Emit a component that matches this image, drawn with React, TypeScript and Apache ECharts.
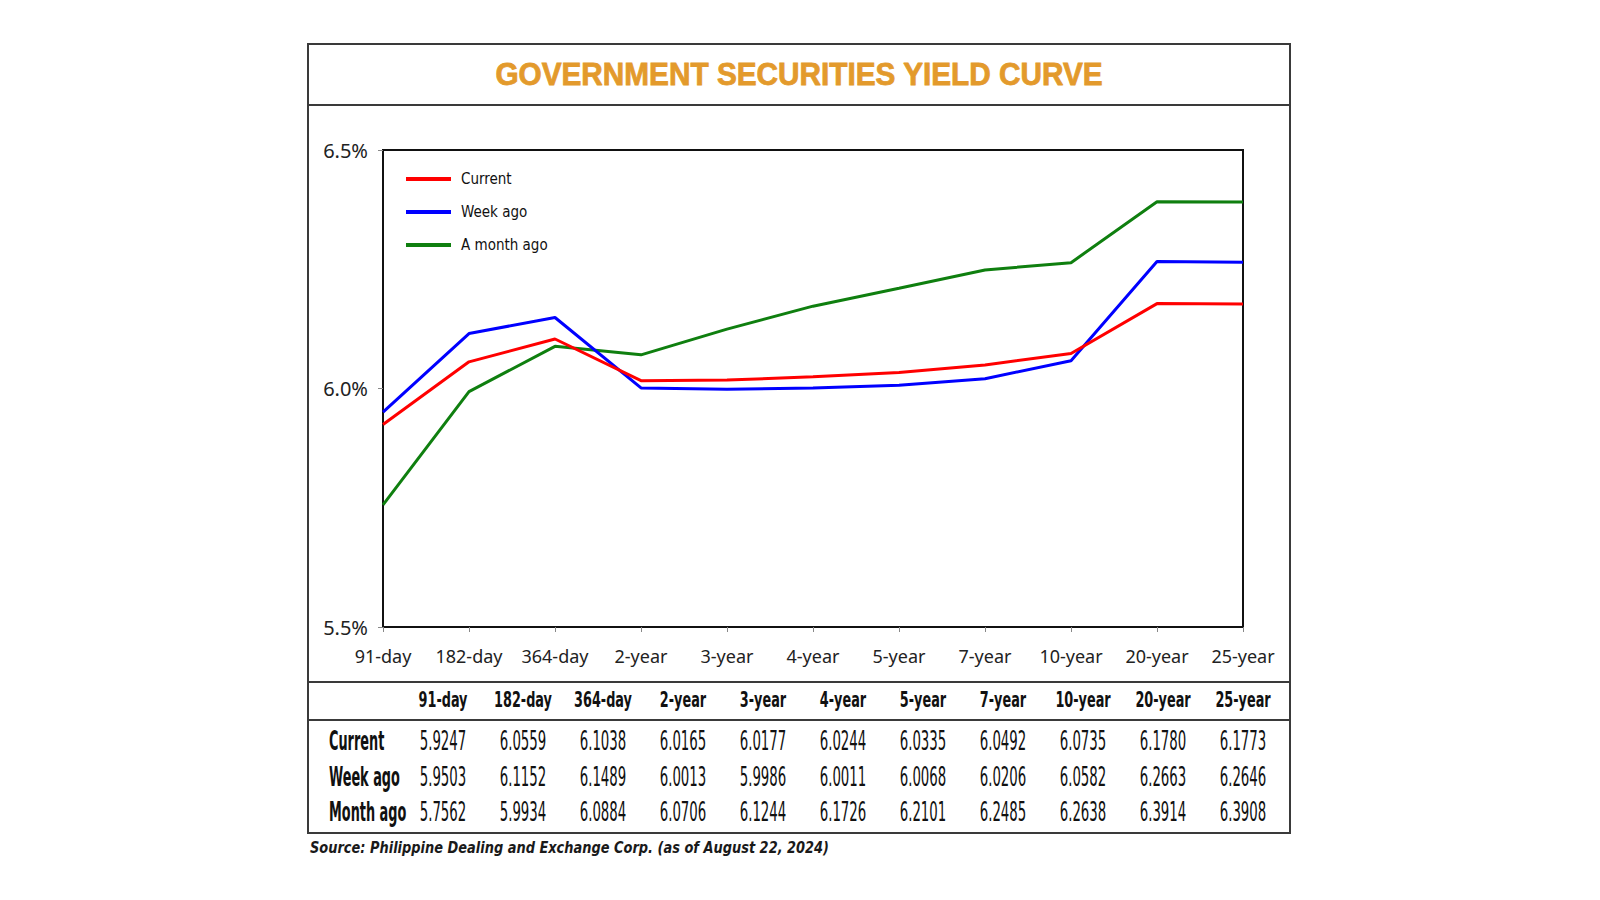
import React, { useEffect, useRef } from "react";
import * as echarts from "echarts";

const categories = ["91-day", "182-day", "364-day", "2-year", "3-year", "4-year", "5-year", "7-year", "10-year", "20-year", "25-year"];
const current = [5.9247, 6.0559, 6.1038, 6.0165, 6.0177, 6.0244, 6.0335, 6.0492, 6.0735, 6.178, 6.1773];
const weekAgo = [5.9503, 6.1152, 6.1489, 6.0013, 5.9986, 6.0011, 6.0068, 6.0206, 6.0582, 6.2663, 6.2646];
const monthAgo = [5.7562, 5.9934, 6.0884, 6.0706, 6.1244, 6.1726, 6.2101, 6.2485, 6.2638, 6.3914, 6.3908];
const seriesNames = ["Current", "Week ago", "A month ago"];
const rowLabels = ["Current", "Week ago", "Month ago"];
const yTicks = { min: 5.5, max: 6.5, interval: 0.5 };
const titleText = "GOVERNMENT SECURITIES YIELD CURVE";
const sourceText = "Source: Philippine Dealing and Exchange Corp. (as of August 22, 2024)";

const NARROW = "'Liberation Sans Narrow', 'DejaVu Sans Condensed', 'Liberation Sans', sans-serif";
const COLORS = ["#ff0000", "#0000ff", "#0f7f0f"];

// layout
const BOX = { x: 308, y: 44, w: 982, h: 789 };
const TITLE_SEP_Y = 105;
const TABLE_TOP_Y = 682;
const TABLE_HEAD_SEP_Y = 720;
const HEAD_Y = 699;
const ROW_Y = [741, 777, 812];
const COL_X0 = 443;
const COL_STEP = 80;
const ROW_LABEL_X = 329;

export default function App() {
  const ref = useRef<HTMLDivElement>(null);
  useEffect(() => {
    if (!ref.current) return;
    const chart = echarts.init(ref.current, null, { renderer: "svg" });
    const rows = [current, weekAgo, monthAgo];
    const graphics: any[] = [
      {
        type: "rect",
        shape: { x: BOX.x, y: BOX.y, width: BOX.w, height: BOX.h },
        style: { fill: "none", stroke: "#3a3a3a", lineWidth: 2 },
        z: 10,
      },
      {
        type: "line",
        shape: { x1: BOX.x, y1: TITLE_SEP_Y, x2: BOX.x + BOX.w, y2: TITLE_SEP_Y },
        style: { stroke: "#3a3a3a", lineWidth: 2 },
      },
      {
        type: "text",
        x: BOX.x + BOX.w / 2,
        y: 74,
        scaleX: 0.96,
        style: {
          text: titleText,
          fill: "#e39a2c",
          stroke: "#e39a2c",
          lineWidth: 0.8,
          fontFamily: "'Liberation Sans', Arial, sans-serif",
          fontWeight: "bold",
          fontSize: 31,
          align: "center",
          verticalAlign: "middle",
        },
      },
      {
        type: "line",
        shape: { x1: BOX.x, y1: TABLE_TOP_Y, x2: BOX.x + BOX.w, y2: TABLE_TOP_Y },
        style: { stroke: "#3a3a3a", lineWidth: 2 },
      },
      {
        type: "line",
        shape: { x1: BOX.x, y1: TABLE_HEAD_SEP_Y, x2: BOX.x + BOX.w, y2: TABLE_HEAD_SEP_Y },
        style: { stroke: "#3a3a3a", lineWidth: 2 },
      },
      {
        type: "text",
        x: 310,
        y: 848,
        scaleX: 0.9,
        style: {
          text: sourceText,
          fill: "#1a1a1a",
          fontFamily: NARROW,
          fontWeight: "bold",
          fontStyle: "italic",
          fontSize: 16,
          align: "left",
          verticalAlign: "middle",
        },
      },
    ];
    categories.forEach((c, i) => {
      graphics.push({
        type: "text",
        x: COL_X0 + i * COL_STEP,
        y: HEAD_Y,
        scaleX: 0.68,
        style: {
          text: c,
          fill: "#111",
          fontFamily: NARROW,
          fontWeight: "bold",
          fontSize: 21,
          align: "center",
          verticalAlign: "middle",
        },
      });
    });
    rowLabels.forEach((lab, r) => {
      graphics.push({
        type: "text",
        x: ROW_LABEL_X,
        y: ROW_Y[r],
        scaleX: 0.55,
        style: {
          text: lab,
          fill: "#111",
          fontFamily: NARROW,
          fontWeight: "bold",
          fontSize: 26,
          align: "left",
          verticalAlign: "middle",
        },
      });
      rows[r].forEach((v, i) => {
        graphics.push({
          type: "text",
          x: COL_X0 + i * COL_STEP,
          y: ROW_Y[r],
          scaleX: 0.57,
          style: {
            text: v.toFixed(4),
            fill: "#111",
            fontFamily: NARROW,
            fontSize: 26,
            align: "center",
            verticalAlign: "middle",
          },
        });
      });
    });

    const lineSeries = [current, weekAgo, monthAgo].map((d, i) => ({
      name: seriesNames[i],
      type: "line",
      data: d,
      symbol: "none",
      lineStyle: { color: COLORS[i], width: 3 },
      itemStyle: { color: COLORS[i] },
      z: 3 - i,
    }));

    chart.setOption({
      animation: false,
      backgroundColor: "#ffffff",
      grid: {
        left: 383,
        right: 1600 - 1243,
        top: 150,
        bottom: 900 - 627,
        show: true,
        borderColor: "#111",
        borderWidth: 2,
        containLabel: false,
      },
      legend: {
        orient: "vertical",
        left: 401,
        top: 165,
        itemWidth: 45,
        itemHeight: 4,
        itemGap: 15,
        icon: "rect",
        data: seriesNames,
        textStyle: {
          fontFamily: NARROW,
          fontSize: 15,
          color: "#111",
          lineHeight: 18,
          padding: [0, 0, 0, 5],
        },
      },
      xAxis: {
        type: "category",
        data: categories,
        boundaryGap: false,
        axisLine: { show: true, lineStyle: { color: "#111", width: 2 } },
        axisTick: { show: true, inside: false, length: 5, lineStyle: { color: "#888", width: 1 } },
        axisLabel: { fontFamily: "'Noto Sans', sans-serif", fontSize: 18, color: "#222", margin: 20, interval: 0 },
        splitLine: { show: false },
      },
      yAxis: {
        type: "value",
        min: yTicks.min,
        max: yTicks.max,
        interval: yTicks.interval,
        axisLine: { show: true, lineStyle: { color: "#111", width: 2 } },
        axisTick: { show: true, inside: false, length: 5, lineStyle: { color: "#888", width: 1 } },
        axisLabel: {
          fontFamily: "'Noto Sans', sans-serif",
          fontSize: 20,
          color: "#222",
          margin: 15,
          formatter: (v: number) => v.toFixed(1) + "%",
        },
        splitLine: { show: false },
      },
      series: lineSeries,
      graphic: graphics,
    });
    return () => chart.dispose();
  }, []);
  return <div ref={ref} style={{ position: "absolute", left: 0, top: 0, width: 1600, height: 900 }} />;
}
